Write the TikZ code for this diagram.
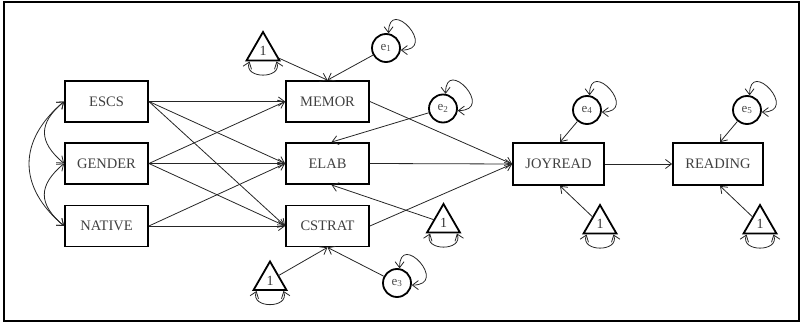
\documentclass[tikz,border=0pt]{standalone}
\usepackage{fontspec}
\setmainfont{Liberation Serif}
\usetikzlibrary{arrows.meta,shapes.geometric}
\begin{document}
\begin{tikzpicture}[x=1pt,y=1pt,
  >={Straight Barb[length=6pt,width=9pt]},
  conn/.style={->,line width=0.8pt,black!85},
  cov/.style={<->,line width=0.8pt,black!85},
  var/.style={draw,line width=1.8pt,minimum width=83pt,minimum height=41pt,inner sep=0pt,
     font=\fontsize{14.5}{16}\selectfont,text=black!75},
  err/.style={draw,circle,line width=1.8pt,minimum size=28pt,inner sep=0pt,
     font=\fontsize{13}{14}\selectfont,text=black!70},
  const/.style={draw,regular polygon,regular polygon sides=3,minimum size=38pt,inner sep=0pt,outer sep=0pt,
     line width=1.8pt,font=\fontsize{14}{16}\selectfont,text=black!80}]
\useasboundingbox (0,0) rectangle (801,-323);
\draw[line width=2pt] (4,-2.5) rectangle (799,-321);

% observed variables
\node[var] (escs) at (106.5,-101.5) {ESCS};
\node[var] (gender) at (106.5,-163.5) {GENDER};
\node[var] (native) at (106.5,-226) {NATIVE};
\node[var] (memor) at (327.5,-101.5) {MEMOR};
\node[var] (elab) at (327.5,-163.5) {ELAB};
\node[var] (cstrat) at (327.5,-226) {CSTRAT};
\node[var,minimum width=91pt,minimum height=42pt] (joy) at (558.5,-164) {JOYREAD};
\node[var,minimum width=90pt,minimum height=42pt] (read) at (718,-164) {READING};

% errors
\node[err] (e1) at (386,-48) {e\textsubscript{1}};
\node[err] (e2) at (443,-108.5) {e\textsubscript{2}};
\node[err] (e3) at (397,-283) {e\textsubscript{3}};
\node[err] (e4) at (587,-110) {e\textsubscript{4}};
\node[err] (e5) at (747,-110) {e\textsubscript{5}};

% constants
\node[const] (t1) at (263,-51) {1};
\node[const] (t2) at (270,-280.5) {1};
\node[const] (t3) at (443.5,-223) {1};
\node[const] (t4) at (600,-224) {1};
\node[const] (t5) at (760,-224) {1};

% paths exogenous -> mediators
\foreach \s in {escs,gender}{
  \foreach \t in {memor,elab,cstrat}{
    \draw[conn] (\s.east) -- (\t.west);
  }
}
\draw[conn] (native.east) -- (elab.west);
\draw[conn] (native.east) -- (cstrat.west);

% mediators -> JOYREAD
\draw[conn] (memor.east) -- (joy.west);
\draw[conn] (elab.east) -- (joy.west);
\draw[conn] (cstrat.east) -- (joy.west);
\draw[conn] (joy.east) -- (read.west);

% errors and constants
\draw[conn] (e1) -- (memor.north);
\draw[conn] (t1) -- (memor.north);
\draw[conn] (e2) -- ([xshift=4pt]elab.north);
\draw[conn] (t3) -- ([xshift=4pt]elab.south);
\draw[conn] (t2) -- (cstrat.south);
\draw[conn] (e3) -- (cstrat.south);
\draw[conn] (e4) -- ([xshift=1.5pt]joy.north);
\draw[conn] (t4) -- ([xshift=1.5pt]joy.south);
\draw[conn] (e5) -- ([xshift=2pt]read.north);
\draw[conn] (t5) -- ([xshift=2pt]read.south);

% error variances (self loops)
\foreach \e in {e1,e2,e3,e4,e5}{
  \draw[cov] (\e.80) .. controls +(90:38) and +(0:38) .. (\e.-8);
}

% constant variances
\foreach \t in {t1,t2,t3,t4,t5}{
  \draw[cov] ([xshift=3pt,yshift=-1pt]\t.corner 2) .. controls +(-110:19) and +(-70:19) .. ([xshift=-3pt,yshift=-1pt]\t.corner 3);
}

% covariances among exogenous
\draw[cov] (escs.west) to[out=220,in=140,looseness=1.4] (gender.west);
\draw[cov] (gender.west) to[out=220,in=140,looseness=1.4] (native.west);
\draw[cov] (escs.west) to[out=220,in=140,looseness=1.25] (native.west);
\end{tikzpicture}
\end{document}
